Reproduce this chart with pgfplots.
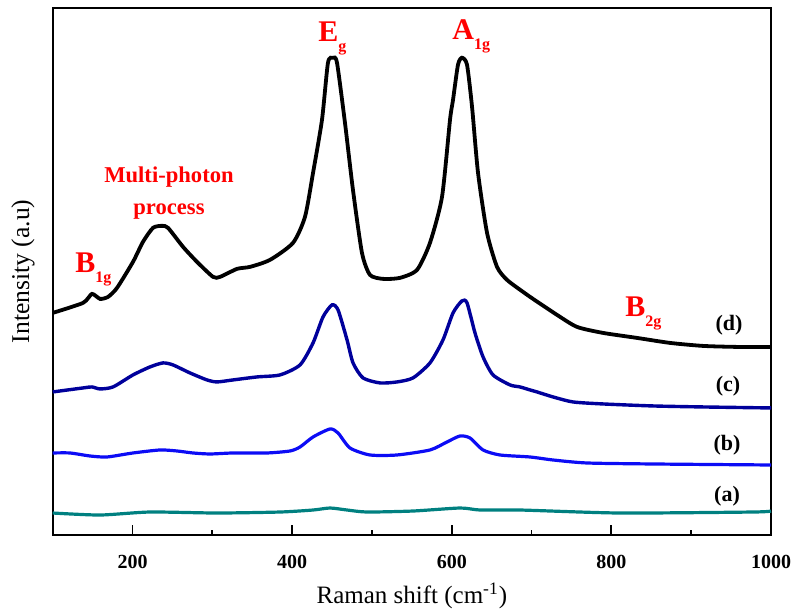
\documentclass[border=0pt]{standalone}
\usepackage{fontspec}
\setmainfont{Liberation Serif}
\usepackage{graphicx}
\usepackage{pgfplots}
\pgfplotsset{compat=1.18}
\definecolor{cD}{RGB}{0,0,0}
\definecolor{cC}{RGB}{0,0,155}
\definecolor{cB}{RGB}{12,12,245}
\definecolor{cA}{RGB}{0,128,128}
\definecolor{ann}{RGB}{255,0,0}
\newcommand{\sub}[1]{\raisebox{-5pt}{\fontsize{8}{8}\selectfont #1}}
\begin{document}
\begin{tikzpicture}
\begin{axis}[
  scale only axis,
  width=359.15pt, height=263.65pt,
  xmin=100, xmax=1000, ymin=74, ymax=601,
  axis line style={line width=1pt},
  xtick={200,400,600,800,1000},
  xticklabels={200,400,600,800,1000},
  minor xtick={300,500,700,900},
  xtick pos=bottom,
  ytick=\empty,
  tick align=inside,
  major tick length=5pt, minor tick length=2.5pt,
  every tick/.style={line width=0.9pt, black},
  xticklabel style={font=\fontsize{10}{12}\selectfont\bfseries, anchor=north, inner sep=0pt, yshift=-10pt},
  xlabel={Raman shift (cm\textsuperscript{-1})},
  xlabel style={font=\fontsize{12.5}{14}\selectfont, at={(axis description cs:0.5,-0.129)}, anchor=base},
  ylabel={Intensity (a.u)},
  ylabel style={font=\fontsize{12.8}{14}\selectfont, at={(axis description cs:-0.0413,0.5)}, anchor=center},
  clip=false,
]
% (a)
\addplot[cA, line width=1.6pt, smooth, tension=0.4] coordinates {
(100,96) (159.3,94) (221.9,97) (305.9,96) (384.8,97) (426.2,99) (447.5,101) (468.8,99) (493.8,97) (551.4,98) (610.3,101) (635.4,99) (685.5,99) (810.8,96) (977.4,97) (1000,98)
};
% (b)
\addplot[cB, line width=1.6pt, smooth, tension=0.4] coordinates {
(100,156) (121.7,156) (146.7,153) (168,152) (200.6,156) (234.4,159) (255.7,158) (275.8,156) (297.1,155) (325.9,156) (368.5,156) (397.3,158) (409.9,162) (426.2,172) (447.5,180) (457.5,176) (472.5,161) (497.6,154) (531.4,154) (572.7,159) (594,167) (610.3,173) (622.8,171) (639.2,159) (660.4,154) (698,152) (726.9,149) (769.5,146) (852.2,145) (1000,144)
};
% (c)
\addplot[cC, line width=1.7pt, smooth, tension=0.4] coordinates {
(100,217) (138,221) (149.2,222) (159.3,220) (175.6,222) (200.6,234) (221.9,242) (238.2,246) (250.7,244) (272,236) (293.3,229) (305.9,227) (325.9,229) (356,232) (384.8,234) (409.9,244) (426.2,266) (438.7,292) (450,304) (457.5,299) (468.8,269) (476.3,246) (488.8,231) (510.1,226) (531.4,227) (551.4,231) (572.7,246) (589,269) (601.6,296) (612.8,308) (619.1,306) (629.1,276) (639.2,252) (651.7,234) (673,224) (685.5,222) (698,219) (706.8,217) (726.9,212) (752,207) (789.5,205) (852.2,203) (914.8,202) (1000,201)
};
% (d)
\addplot[cD, line width=1.9pt, smooth, tension=0.4] coordinates {
(100,296) (138,306) (149.2,315) (159.3,310) (169.3,312) (180.6,321) (200.6,347) (213.1,367) (225.7,381) (237,383) (244.5,381) (263.3,362) (280.8,347) (300.9,332) (309.7,332) (331,340) (347.3,342) (372.3,349) (401.1,366) (416.1,392) (426.2,436) (437.4,489) (444.9,546) (451.2,551) (456.2,546) (466.2,486) (476.2,419) (487.5,356) (497.5,334) (513.8,330) (535.1,331) (556.5,339) (572.7,366) (587.8,412) (597.8,489) (601.6,509) (607.8,544) (612.8,551) (619.1,544) (625.4,502) (632.9,436) (644.2,376) (656.7,342) (669.2,329) (689.3,317) (701.8,310) (731.9,294) (756.9,282) (789.5,276) (832.1,271) (873.5,266) (914.8,263) (957.4,262) (1000,262)
};
% annotations
\node[anchor=base west, inner sep=0pt, text=ann, font=\bfseries\fontsize{15}{15}\selectfont] at (axis cs:432.4,567) {E\sub{g}};
\node[anchor=base west, inner sep=0pt, text=ann, font=\bfseries\fontsize{15}{15}\selectfont] at (axis cs:600.3,569) {A\sub{1g}};
\node[anchor=base west, inner sep=0pt, text=ann, font=\bfseries\fontsize{15}{15}\selectfont] at (axis cs:127.9,336) {B\sub{1g}};
\node[anchor=base west, inner sep=0pt, text=ann, font=\bfseries\fontsize{15}{15}\selectfont] at (axis cs:817.1,292) {B\sub{2g}};
\node[anchor=base, inner sep=0pt, text=ann, font=\bfseries\fontsize{11.3}{12}\selectfont] at (axis cs:245.7,426) {Multi-photon};
\node[anchor=base, inner sep=0pt, text=ann, font=\bfseries\fontsize{11.3}{12}\selectfont] at (axis cs:245.7,394) {process};
\node[anchor=center, inner sep=0pt, font=\bfseries\fontsize{11}{12}\selectfont] at (axis cs:947.4,284) {(d)};
\node[anchor=center, inner sep=0pt, font=\bfseries\fontsize{11}{12}\selectfont] at (axis cs:946.2,223) {(c)};
\node[anchor=center, inner sep=0pt, font=\bfseries\fontsize{11}{12}\selectfont] at (axis cs:944.9,164) {(b)};
\node[anchor=center, inner sep=0pt, font=\bfseries\fontsize{11}{12}\selectfont] at (axis cs:944.9,113) {(a)};
\end{axis}
\pgfresetboundingbox
\path[use as bounding box] ([xshift=-26.35pt,yshift=-37pt]current axis.south west) rectangle ([xshift=13pt,yshift=3.85pt]current axis.north east);
\end{tikzpicture}
\end{document}
